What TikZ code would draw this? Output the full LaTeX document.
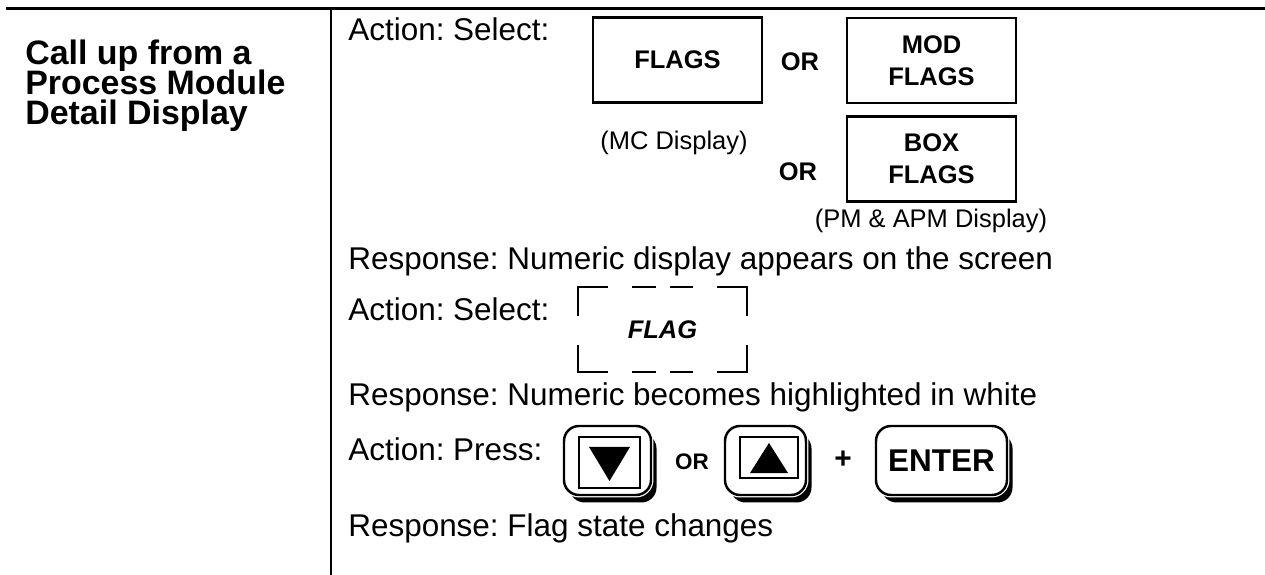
\documentclass[tikz,border=0pt]{standalone}
\usepackage{fontspec}
\setmainfont{Liberation Sans}
\usetikzlibrary{calc, shadows}
\frenchspacing
\setlength{\lineskiplimit}{-20pt}

\begin{document}
\begin{tikzpicture}[
    rule/.style={line width=1.7pt},
    titletxt/.style={anchor=base west, inner sep=0, align=left,
      font=\bfseries\fontsize{19.3}{17.3}\selectfont},
    txt/.style={anchor=base west, inner sep=0, font=\fontsize{17.9}{21}\selectfont},
    btn/.style={draw, line width=1.3pt, minimum width=3.38cm, minimum height=1.70cm,
      align=center, font=\bfseries\fontsize{14.5}{18.1}\selectfont},
    orlbl/.style={inner sep=0, font=\bfseries\fontsize{14.5}{17}\selectfont},
    note/.style={anchor=base, inner sep=0, font=\fontsize{14.5}{17}\selectfont},
    cutline/.style={line width=1.1pt},
    keybox/.style={draw, line width=1.4pt, fill=white, rounded corners=0.3cm,
      minimum height=1.38cm,
      drop shadow={shadow xshift=0.11cm, shadow yshift=-0.15cm, fill=black, opacity=1},
      preaction={draw=white, line width=2.8pt}},
    keyface/.style={draw, line width=1.2pt, inner sep=0}
]
\useasboundingbox (0,0) rectangle (25.3,-11.5);

% Table rules
\draw[rule] (0.12,-0.18) -- (25.3,-0.18);
\draw[line width=1.1pt] (6.62,-0.18) -- (6.62,-11.5);

% Left column (base = last line)
\node[titletxt] (title) at (0.5,-2.5) {Call up from a\\Process Module\\Detail Display};

% Step 1: select the flags target
\node[txt] (act1) at (6.96,-0.82) {Action: Select:};
\node[btn] (flags) at (13.55,-1.20) {FLAGS};
\node[orlbl] (or1) at (16.0,-1.24) {OR};
\node[btn] (modflags) at (18.63,-1.21) {MOD\\FLAGS};
\node[note] (mcnote) at (13.48,-3.0) {(MC Display)};
\node[orlbl] (or2) at (15.96,-3.44) {OR};
\node[btn] (boxflags) at (18.63,-3.18) {BOX\\FLAGS};
\node[note] (pmnote) at (18.62,-4.56) {(PM \& APM Display)};
\node[txt] (resp1) at (6.96,-5.40) {Response: Numeric display appears on the screen};

% Step 2: select the flag field
\node[txt] (act2) at (6.96,-6.42) {Action: Select:};
\node[minimum width=3.38cm, minimum height=1.70cm,
  font=\bfseries\itshape\fontsize{14.5}{17}\selectfont] (flag) at (13.25,-6.59) {FLAG};
\draw[cutline] ($(flag.north west)+(0,-0.58)$) |- ($(flag.north west)+(0.6,0)$);
\draw[cutline] ($(flag.north east)+(-0.6,0)$) -| ($(flag.north east)+(0,-0.58)$);
\draw[cutline] ($(flag.south west)+(0,0.54)$) |- ($(flag.south west)+(0.6,0)$);
\draw[cutline] ($(flag.south east)+(-0.6,0)$) -| ($(flag.south east)+(0,0.54)$);
\foreach \s in {north, south}
  \draw[cutline] ($(flag.\s)+(-0.61,0)$) -- ++(0.48,0) ($(flag.\s)+(0.15,0)$) -- ++(0.46,0);
\node[txt] (resp2) at (6.96,-8.11) {Response: Numeric becomes highlighted in white};

% Step 3: keys
\node[txt] (act3) at (6.96,-9.22) {Action: Press:};
\node[keybox, minimum width=1.74cm] (dnkey) at (12.15,-9.21) {};
\node[keyface, minimum width=1.22cm, minimum height=1.02cm] (dnface) at (12.19,-9.25) {};
\fill ($(dnface.north)+(-0.41,-0.22)$) -- ($(dnface.north)+(0.41,-0.22)$) -- ($(dnface.south)+(0,0.16)$) -- cycle;
\node[inner sep=0, font=\bfseries\fontsize{12.8}{15}\selectfont] (or3) at (13.84,-9.24) {OR};
\node[keybox, minimum width=1.62cm] (upkey) at (15.31,-9.21) {};
\node[keyface, minimum width=1.16cm, minimum height=0.82cm] (upface) at (15.38,-9.15) {};
\fill ($(upface.south)+(-0.38,0.12)$) -- ($(upface.south)+(0.38,0.12)$) -- ($(upface.north)+(0,-0.14)$) -- cycle;
\node[inner sep=0, font=\bfseries\fontsize{17}{20}\selectfont] (plus) at (16.86,-9.2) {+};
\node[keybox, minimum width=2.62cm,
  font=\bfseries\fontsize{17.9}{21}\selectfont] (enterkey) at (18.83,-9.21) {ENTER};
\node[txt] (resp3) at (6.96,-10.74) {Response: Flag state changes};

\end{tikzpicture}
\end{document}
